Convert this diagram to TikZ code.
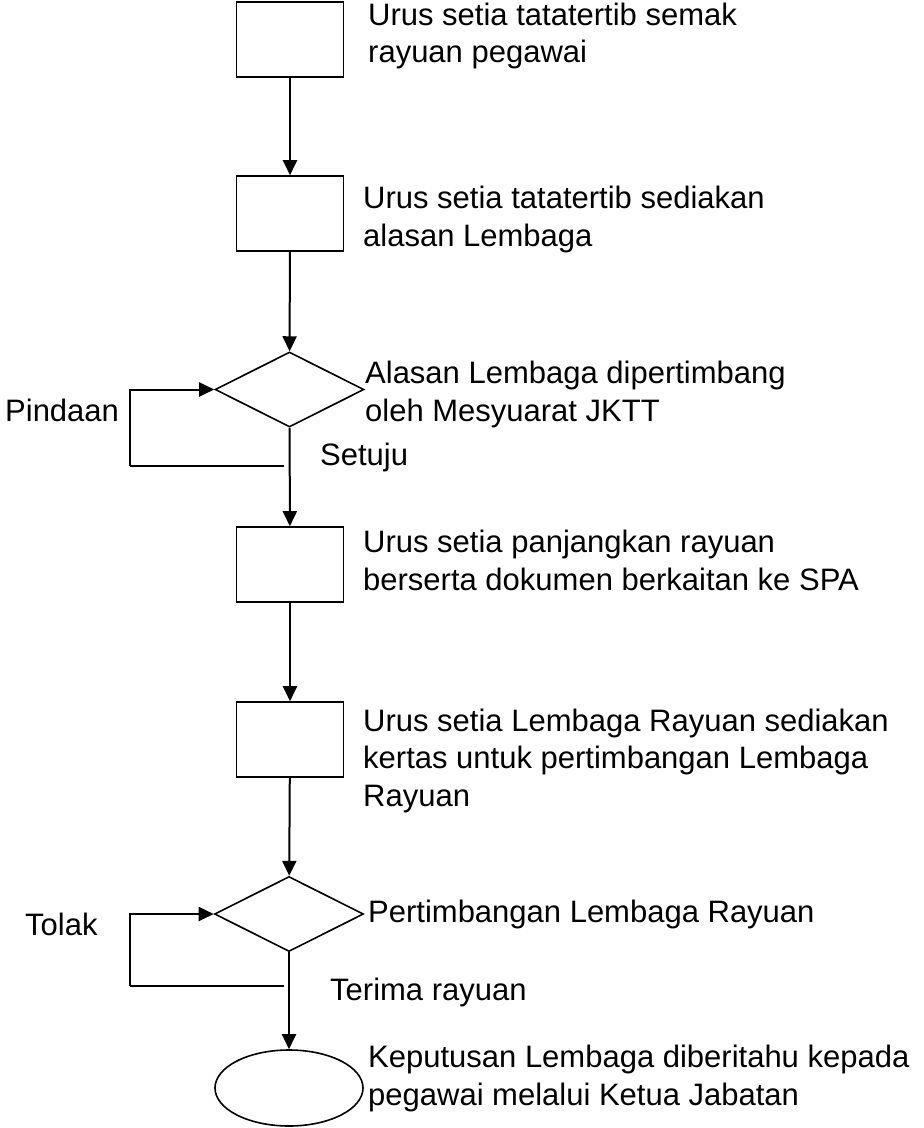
\documentclass[tikz,border=0pt]{standalone}
\usepackage{fontspec}
\setmainfont{Liberation Sans}
\usetikzlibrary{arrows.meta}
\usetikzlibrary{shapes.geometric}
\tikzset{box/.style = {draw, line width = 1.6, inner sep = 0, minimum width = 107, minimum height = 75}}
\tikzset{decision/.style = {draw, diamond, line width = 1.6, inner sep = 0, minimum width = 149, minimum height = 75}}
\tikzset{terminal/.style = {draw, ellipse, line width = 1.6, inner sep = 0, minimum width = 148, minimum height = 76}}
\tikzset{flow/.style = {line width = 2, -{Triangle[length=15pt, width=14pt]}}}
\tikzset{plain/.style = {line width = 2}}
\tikzset{txt/.style = {anchor = base west, align = left, inner sep = 0, font = \fontsize{31}{37.5}\selectfont}}

\begin{document}
\begin{tikzpicture}[x = 1pt, y = -1pt]
    \useasboundingbox (0, 0) rectangle (924, 1128);

    \node [box] (semak) at (290, 39.5) {};
    \node [txt] (semak-t) at (368, 62.5) {Urus setia tatatertib semak\\rayuan pegawai};

    \node [box] (sedia) at (290, 213.5) {};
    \node [txt] (sedia-t) at (363, 246) {Urus setia tatatertib sediakan\\alasan Lembaga};

    \node [decision] (jktt) at (289.5, 389.5) {};
    \node [txt] (jktt-t) at (365, 421) {Alasan Lembaga dipertimbang\\oleh Mesyuarat JKTT};
    \node [txt] (pindaan) at (5, 421) {Pindaan};
    \node [txt] (setuju) at (320, 465) {Setuju};

    \node [box] (spa) at (290, 564.5) {};
    \node [txt] (spa-t) at (363, 590) {Urus setia panjangkan rayuan\\berserta dokumen berkaitan ke SPA};

    \node [box] (kertas) at (290, 739.5) {};
    \node [txt] (kertas-t) at (363, 806) {Urus setia Lembaga Rayuan sediakan\\kertas untuk pertimbangan Lembaga\\Rayuan};

    \node [decision] (lembaga) at (289, 914) {};
    \node [txt] (lembaga-t) at (368, 922) {Pertimbangan Lembaga Rayuan};
    \node [txt] (tolak) at (25, 935) {Tolak};
    \node [txt] (terima) at (330, 1000) {Terima rayuan};

    \node [terminal] (keputusan) at (289, 1088) {};
    \node [txt] (keputusan-t) at (368, 1105) {Keputusan Lembaga diberitahu kepada\\pegawai melalui Ketua Jabatan};

    \draw [flow] (semak) -- (sedia);
    \draw [flow] (sedia) -- (jktt);
    \draw [flow] (jktt) -- (spa);
    \draw [flow] (spa) -- (kertas);
    \draw [flow] (kertas) -- (lembaga);
    \draw [flow] (lembaga) -- (keputusan);

    \coordinate (pindaan-a) at (284, 466);
    \coordinate (pindaan-b) at (130, 466);
    \draw [plain] (pindaan-a) -- (pindaan-b);
    \draw [flow] (pindaan-b) |- (jktt.west);

    \coordinate (tolak-a) at (284, 986);
    \coordinate (tolak-b) at (130, 986);
    \draw [plain] (tolak-a) -- (tolak-b);
    \draw [flow] (tolak-b) |- (lembaga.west);
\end{tikzpicture}
\end{document}
